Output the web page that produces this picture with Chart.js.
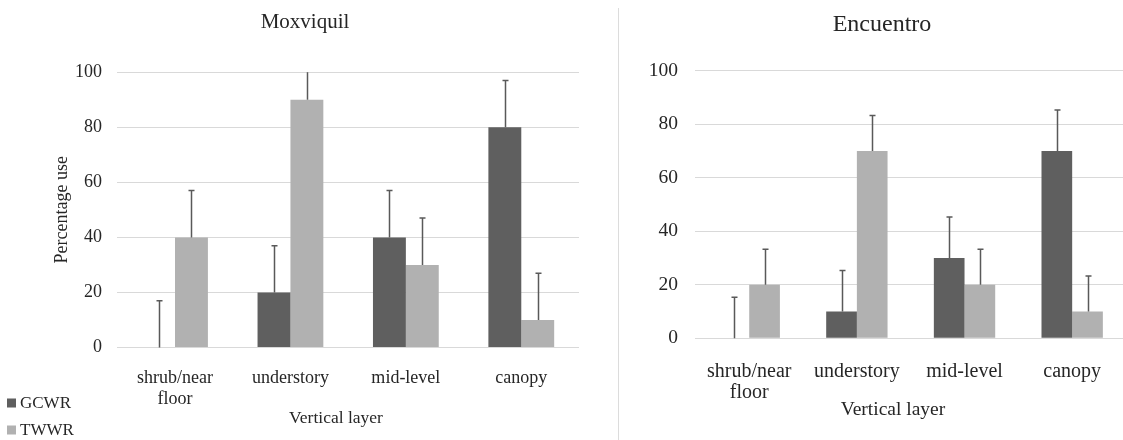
<!DOCTYPE html>
<html>
<head>
<meta charset="utf-8">
<script src="https://cdn.jsdelivr.net/npm/chart.js@4.4.1/dist/chart.umd.min.js"></script>
<style>
  html, body { margin: 0; padding: 0; background: #fff; }
  body { width: 1123px; height: 440px; overflow: hidden; position: relative; }
  canvas { position: absolute; top: 0; }
  #chart-mox { left: 0; }
  #chart-enc { left: 618px; }
  .divider { position: absolute; left: 618px; top: 8px; width: 1px; height: 432px; background: #dcdcdc; }
</style>
</head>
<body>
<canvas id="chart-mox" width="579" height="440" style="width:579px;height:440px"></canvas>
<div class="divider"></div>
<canvas id="chart-enc" width="508" height="440" style="width:508px;height:440px"></canvas>
<script>
  const layers = [['shrub/near', 'floor'], 'understory', 'mid-level', 'canopy'];
  const seriesNames = ['GCWR', 'TWWR'];

  // Moxviquil
  const moxGCWR = [0, 20, 40, 80];
  const moxTWWR = [40, 90, 30, 10];
  const moxGCWRErr = [17, 17, 17, 17];
  const moxTWWRErr = [17, 17, 17, 17];

  // Encuentro
  const encGCWR = [0, 10, 30, 70];
  const encTWWR = [20, 70, 20, 10];
  const encGCWRErr = [15.3, 15.3, 15.3, 15.3];
  const encTWWRErr = [13.3, 13.3, 13.3, 13.3];

  const yTicks = [0, 20, 40, 60, 80, 100];

  const DARK = '#5f5f5f';
  const LIGHT = '#b1b1b1';
  const TEXT = '#262626';
  const GRID = '#d9d9d9';
  const SERIF = '"Liberation Serif", "Times New Roman", serif';

  // upper-only error bars, clipped at the top of the plot (no cap when clipped)
  const errorBars = {
    id: 'errorBars',
    afterDatasetsDraw(chart) {
      const { ctx, chartArea, scales: { y } } = chart;
      ctx.save();
      ctx.strokeStyle = '#595959';
      ctx.lineWidth = 1.5;
      chart.data.datasets.forEach((ds, d) => {
        const meta = chart.getDatasetMeta(d);
        meta.data.forEach((bar, i) => {
          const err = ds.errors ? ds.errors[i] : 0;
          if (!err) return;
          let top = y.getPixelForValue(ds.data[i] + err);
          let cap = true;
          if (top < chartArea.top) { top = chartArea.top; cap = false; }
          const x = Math.round(bar.x) + 0.5;
          ctx.beginPath();
          ctx.moveTo(x, bar.y);
          ctx.lineTo(x, top);
          if (cap) {
            ctx.moveTo(x - 3, top);
            ctx.lineTo(x + 3, top);
          }
          ctx.stroke();
        });
      });
      ctx.restore();
    }
  };

  // x axis caption, placed where the original has it
  const layerCaption = {
    id: 'layerCaption',
    afterDraw(chart, args, opts) {
      if (!opts.text) return;
      const ctx = chart.ctx;
      ctx.save();
      ctx.font = opts.size + 'px ' + SERIF;
      ctx.fillStyle = TEXT;
      ctx.textAlign = 'center';
      ctx.textBaseline = 'middle';
      ctx.fillText(opts.text, opts.x, opts.y);
      ctx.restore();
    }
  };

  // stacked legend at bottom left
  const sideLegend = {
    id: 'sideLegend',
    afterDraw(chart, args, opts) {
      if (!opts.show) return;
      const ctx = chart.ctx;
      ctx.save();
      ctx.font = '17px ' + SERIF;
      ctx.textBaseline = 'middle';
      chart.data.datasets.forEach((ds, i) => {
        const cy = opts.y + i * opts.gap;
        ctx.fillStyle = ds.backgroundColor;
        ctx.fillRect(opts.x, cy - 4.5, 9, 9);
        ctx.fillStyle = TEXT;
        ctx.fillText(ds.label, opts.x + 13, cy + 1);
      });
      ctx.restore();
    }
  };

  function panel(canvas, cfg) {
    return new Chart(canvas, {
      type: 'bar',
      data: {
        labels: layers,
        datasets: [
          { label: seriesNames[0], data: cfg.gcwr, errors: cfg.gcwrErr, backgroundColor: DARK, borderWidth: 0 },
          { label: seriesNames[1], data: cfg.twwr, errors: cfg.twwrErr, backgroundColor: LIGHT, borderWidth: 0 }
        ]
      },
      options: {
        responsive: false,
        animation: false,
        devicePixelRatio: 1,
        layout: { padding: { left: cfg.padLeft, right: 0, top: 0, bottom: 0 } },
        datasets: { bar: { categoryPercentage: 0.57, barPercentage: 1.0 } },
        plugins: {
          legend: { display: false },
          tooltip: { enabled: false },
          title: {
            display: true,
            text: cfg.title,
            color: TEXT,
            font: { family: SERIF, size: cfg.titleSize, weight: 'normal' },
            padding: { top: 10, bottom: cfg.titleGap }
          },
          layerCaption: cfg.caption,
          sideLegend: cfg.legend
        },
        scales: {
          x: {
            grid: { display: false },
            border: { display: false },
            ticks: {
              color: TEXT,
              padding: cfg.xPad,
              maxRotation: 0,
              autoSkip: false,
              font: { family: SERIF, size: cfg.xSize, lineHeight: cfg.xLine }
            },
            afterFit(scale) { scale.height = cfg.xHeight; }
          },
          y: {
            min: 0,
            max: 100,
            afterBuildTicks(scale) { scale.ticks = yTicks.map(v => ({ value: v })); },
            grid: { color: GRID, lineWidth: 1, drawTicks: false },
            border: { display: false },
            ticks: {
              color: TEXT,
              padding: cfg.yPad,
              font: { family: SERIF, size: cfg.ySize }
            },
            title: {
              display: !!cfg.yTitle,
              text: cfg.yTitle || '',
              color: TEXT,
              font: { family: SERIF, size: 18, lineHeight: 1.2 },
              padding: { top: 20, bottom: 0 }
            },
            afterFit(scale) { scale.width = cfg.yWidth; }
          }
        }
      },
      plugins: [errorBars, layerCaption, sideLegend]
    });
  }

  panel(document.getElementById('chart-mox'), {
    title: 'Moxviquil', titleSize: 21, titleGap: 37,
    gcwr: moxGCWR, twwr: moxTWWR, gcwrErr: moxGCWRErr, twwrErr: moxTWWRErr,
    padLeft: 31, yWidth: 86.3, yPad: 15.3, ySize: 18,
    xHeight: 92.5, xPad: 11.7, xSize: 18, xLine: 1.2,
    yTitle: 'Percentage use',
    caption: { text: 'Vertical layer', x: 336, y: 418, size: 17.5 },
    legend: { show: true, x: 7, y: 403, gap: 27 }
  });

  panel(document.getElementById('chart-enc'), {
    title: 'Encuentro', titleSize: 24, titleGap: 32,
    gcwr: encGCWR, twwr: encTWWR, gcwrErr: encGCWRErr, twwrErr: encTWWRErr,
    padLeft: 20, yWidth: 57.4, yPad: 17.4, ySize: 19.5,
    xHeight: 101.7, xPad: 15.2, xSize: 20, xLine: 1.05,
    yTitle: null,
    caption: { text: 'Vertical layer', x: 275, y: 410, size: 19.5 },
    legend: { show: false }
  });
</script>
</body>
</html>
